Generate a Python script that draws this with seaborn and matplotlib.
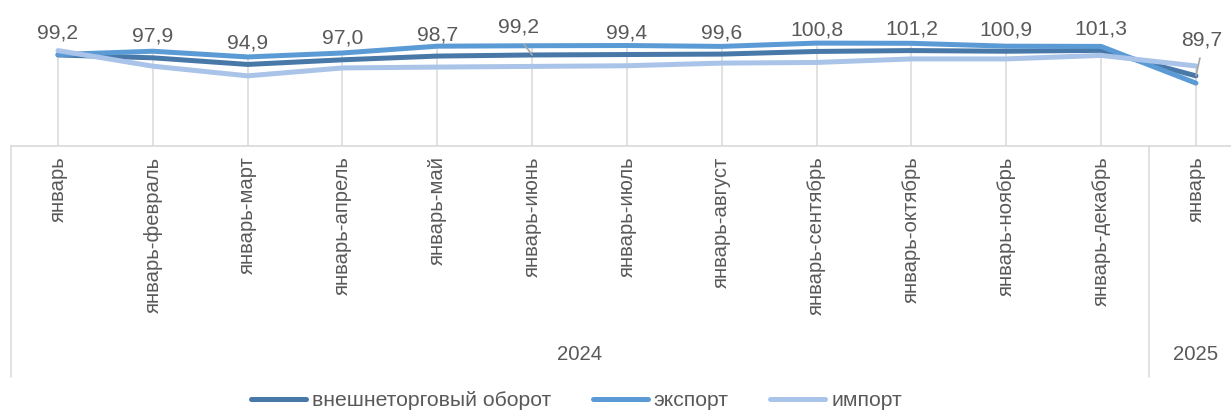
import numpy as np
import pandas as pd
import matplotlib
matplotlib.use('Agg')
from matplotlib import pyplot as plt
from matplotlib import transforms
import seaborn as sns

# Periods (cumulative since January) and the year groups under them
periods = ['январь', 'январь-февраль', 'январь-март', 'январь-апрель', 'январь-май',
           'январь-июнь', 'январь-июль', 'январь-август', 'январь-сентябрь',
           'январь-октябрь', 'январь-ноябрь', 'январь-декабрь', 'январь']
years = ['2024', '2025']
year_first = [0, 12]
year_last = [11, 12]

# Index values, % (only turnover is labelled)
turnover = [99.2, 97.9, 94.9, 97.0, 98.7, 99.2, 99.4, 99.6, 100.8, 101.2, 100.9, 101.3, 89.7]
export = [99.4, 100.9, 98.3, 100.1, 103.2, 103.4, 103.5, 103.1, 104.6, 104.5, 103.2, 103.1, 86.4]
imports = [101.2, 94.1, 89.7, 93.3, 93.7, 94.0, 94.3, 95.5, 95.8, 97.4, 97.4, 99.0, 94.2]

series_names = ['внешнеторговый оборот', 'экспорт', 'импорт']
colors = ['#4878A8', '#5B9BD5', '#A9C4E8']

x = np.arange(len(periods))
df = pd.DataFrame({
    'x': np.tile(x, 3),
    'value': turnover + export + imports,
    'series': np.repeat(series_names, len(periods)),
})

sns.set_style('white')
plt.rcParams['font.family'] = ['Liberation Sans', 'DejaVu Sans']
text_color = '#595959'
grid_color = '#D9D9D9'
fs = 14.6
fs_lab = 15.2

fig = plt.figure(figsize=(12.31, 4.13), dpi=100)
ax = fig.add_axes([10.6 / 1231, 1 - 146 / 413, 1 - 10.6 / 1231, 146 / 413])

y_min, y_max = 57.8, 124.2

# drop lines from the highest series down to the axis
tops = np.max([turnover, export, imports], axis=0)
ax.vlines(x, y_min, tops, color=grid_color, lw=1.1, zorder=1)

sns.lineplot(data=df, x='x', y='value', hue='series', hue_order=series_names,
             palette=colors, lw=3.6, ax=ax, zorder=3, solid_capstyle='round')

ax.set_ylim(y_min, y_max)
ax.set_xlim(-0.5, 12.37)
ax.set_yticks([])
ax.set_xticks(x)
ax.set_xticklabels(periods, rotation=90, fontsize=fs, color=text_color, va='top')
ax.tick_params(axis='x', length=0, pad=7.5)
ax.set_xlabel('')
ax.set_ylabel('')
for side in ['top', 'right', 'left']:
    ax.spines[side].set_visible(False)
ax.spines['bottom'].set_color(grid_color)
ax.spines['bottom'].set_linewidth(1.2)

# multi-level category separators and year labels
trans = transforms.blended_transform_factory(ax.transData, ax.transAxes)
for xs in [-0.5, 11.5]:
    ax.plot([xs, xs], [0, -1.582], transform=trans, color=grid_color, lw=1.1, clip_on=False)
for year, a, b in zip(years, year_first, year_last):
    ax.text((a + b) / 2, -1.43, year, transform=trans, ha='center', va='center',
            fontsize=fs, color=text_color)

# data labels for turnover
leader = {5: (-10, 20), 12: (4.3, 26)}
for i, v in enumerate(turnover):
    label = f'{v:.1f}'.replace('.', ',')
    if i in leader:
        ax.annotate(label, (x[i], v), xytext=leader[i], textcoords='offset points',
                    ha='center', va='center', fontsize=fs_lab, color=text_color,
                    arrowprops=dict(arrowstyle='-', color='#A6A6A6', lw=1.2,
                                    shrinkA=4, shrinkB=0, relpos=(0.5, 0)))
    else:
        ax.annotate(label, (x[i], v), xytext=(0, 15.5), textcoords='offset points',
                    ha='center', va='center', fontsize=fs_lab, color=text_color)

handles, labels = ax.get_legend_handles_labels()
ax.get_legend().remove()
leg = fig.legend(handles, labels, loc='center', bbox_to_anchor=(576.5 / 1231, 1 - 401 / 413),
                 ncol=3, frameon=False, fontsize=fs_lab, handlelength=2.6, handletextpad=0.3,
                 columnspacing=1.95, labelcolor=text_color)
for h in leg.get_lines():
    h.set_linewidth(3.6)

fig.savefig('out.png', dpi=100)
